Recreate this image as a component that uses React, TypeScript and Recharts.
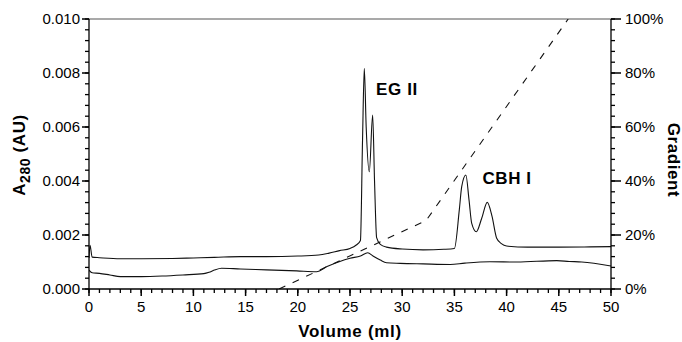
import React from 'react';
import {
  LineChart,
  Line,
  XAxis,
  YAxis,
  ReferenceLine,
  ReferenceDot,
  Label,
} from 'recharts';

// upper trace
const volumeA = [
  0, 0.1, 0.3, 1, 3, 5, 8, 10, 12, 14.5, 17, 20, 22, 23, 24, 25, 25.6, 26.0,
  26.2, 26.37, 26.55, 26.85, 27.17, 27.35, 27.55, 27.9, 28.5, 30, 32, 34, 35.0,
  35.47, 35.7, 36.1, 36.4, 36.66, 37.1, 37.6, 38.15, 38.6, 39.05, 39.5, 40, 42,
  45, 48, 50,
];
const a280A = [
  0.00115, 0.00162, 0.00118, 0.00116, 0.00112, 0.00112, 0.00113, 0.00115,
  0.00117, 0.0012, 0.0012, 0.00122, 0.00126, 0.00133, 0.00142, 0.0015, 0.00163,
  0.0018, 0.0055, 0.00817, 0.006, 0.00434, 0.00644, 0.004, 0.0019, 0.00165,
  0.00155, 0.00148, 0.00145, 0.00147, 0.0015, 0.00293, 0.00379, 0.00422,
  0.0033, 0.00243, 0.00212, 0.0026, 0.00321, 0.0027, 0.00188, 0.00168, 0.00159,
  0.00155, 0.00155, 0.00156, 0.00157,
];

// lower trace
const volumeB = [
  0, 0.3, 1, 2, 3, 5, 7, 9, 11, 11.5, 12, 12.7, 14.5, 17, 19.9, 21.8, 22.8,
  25.0, 26.0, 26.7, 27.2, 27.9, 28.5, 29.8, 32, 34.6, 36, 38.4, 41, 44.8, 46,
  47.2, 50,
];
const a280B = [
  0.0007, 0.0006, 0.00058, 0.00052, 0.00046, 0.00046, 0.00048, 0.00052,
  0.00057, 0.00062, 0.0007, 0.00077, 0.00074, 0.00071, 0.00067, 0.00064,
  0.00083, 0.00114, 0.00122, 0.00134, 0.00122, 0.00107, 0.00097, 0.00095,
  0.00093, 0.00091, 0.00096, 0.00101, 0.001, 0.00105, 0.00102, 0.001, 0.00085,
];

// gradient (%)
const gradVolume = [18.2, 32.3, 45.9];
const gradPct = [0, 25.4, 100];

const volumeLabels = [0, 5, 10, 15, 20, 25, 30, 35, 40, 45, 50];
const a280Labels = ['0.000', '0.002', '0.004', '0.006', '0.008', '0.010'];
const gradientLabels = ['0%', '20%', '40%', '60%', '80%', '100%'];

const peaks = [
  { name: 'EG II', v: 29.5, a: 0.00741 },
  { name: 'CBH I', v: 40.04, a: 0.00411 },
];

const dataA = volumeA.map((v, i) => ({ v, a: a280A[i] }));
const dataB = volumeB.map((v, i) => ({ v, a: a280B[i] }));
const dataG = gradVolume.map((v, i) => ({ v, g: gradPct[i] }));

const FONT = 'Liberation Sans, Arial, Helvetica, sans-serif';

const volumeTicks = Array.from({ length: 51 }, (_, i) => i);
const a280Ticks = Array.from({ length: 26 }, (_, i) => Number((i * 0.0004).toFixed(4)));
const gradTicks = Array.from({ length: 26 }, (_, i) => i * 4);

const labelIndex = (value: number, step: number) => {
  const r = value / step;
  return Math.abs(r - Math.round(r)) < 1e-6 ? Math.round(r) : -1;
};

const BottomTick = (props: any) => {
  const x = Number(props.x);
  const idx = labelIndex(Number(props.payload.value), 5);
  if (idx < 0) return <g />;
  return (
    <g>
      <path d={`M${x},289V296`} stroke="#000" strokeWidth={1.5} fill="none" />
      <text x={x} y={301} dy="0.71em" textAnchor="middle" fontSize={15} fontFamily={FONT} fill="#000">
        {volumeLabels[idx]}
      </text>
    </g>
  );
};

const LeftTick = (props: any) => {
  const y = Number(props.y);
  const idx = labelIndex(Number(props.payload.value), 0.002);
  if (idx < 0) return <g />;
  return (
    <g>
      <path d={`M82,${y}H89`} stroke="#000" strokeWidth={1.5} fill="none" />
      <text x={80} y={y} dy="0.36em" textAnchor="end" fontSize={15} fontFamily={FONT} fill="#000">
        {a280Labels[idx]}
      </text>
    </g>
  );
};

const RightTick = (props: any) => {
  const y = Number(props.y);
  const idx = labelIndex(Number(props.payload.value), 20);
  if (idx < 0) return <g />;
  return (
    <g>
      <path d={`M611,${y}H621`} stroke="#000" strokeWidth={1.5} fill="none" />
      <text x={625} y={y} dy="0.36em" textAnchor="start" fontSize={15} fontFamily={FONT} fill="#000">
        {gradientLabels[idx]}
      </text>
    </g>
  );
};

const PeakLabel = (props: any) => {
  const { viewBox, value } = props;
  const cx = viewBox.x + viewBox.width / 2;
  const cy = viewBox.y + viewBox.height / 2;
  return (
    <text x={cx} y={cy} dy="0.36em" textAnchor="middle" fontSize={17} fontWeight="bold"
      fontFamily={FONT} letterSpacing={0.6} fill="#000">
      {value}
    </text>
  );
};

const App = () => {
  return (
    <div style={{ position: 'absolute', left: 0, top: 0 }}>
      <LineChart width={682} height={342} margin={{ top: 19, right: 0, bottom: 0, left: 0 }}>
        <XAxis
          dataKey="v"
          type="number"
          domain={[0, 50]}
          ticks={volumeTicks}
          interval={0}
          allowDataOverflow
          height={53}
          tickSize={4}
          tickMargin={8}
          tickLine={{ stroke: '#000', strokeWidth: 1.3 }}
          tick={<BottomTick />}
          axisLine={{ stroke: '#000', strokeWidth: 1.3 }}
        >
          <Label
            content={() => (
              <text x={350} y={337} textAnchor="middle" fontSize={17} fontWeight="bold"
                fontFamily={FONT} letterSpacing={0.7} fill="#000">
                Volume (ml)
              </text>
            )}
          />
        </XAxis>
        <YAxis
          yAxisId="a"
          type="number"
          domain={[0, 0.01]}
          ticks={a280Ticks}
          interval={0}
          allowDataOverflow
          width={89}
          tickSize={4}
          tickMargin={5}
          tickLine={{ stroke: '#000', strokeWidth: 1.3 }}
          tick={<LeftTick />}
          axisLine={{ stroke: '#000', strokeWidth: 1.3 }}
        >
          <Label
            content={() => (
              <text transform="translate(25,155) rotate(-90)" textAnchor="middle" fontWeight="bold"
                fontFamily={FONT} fill="#000" fontSize={17} letterSpacing={0.6}>
                A
                <tspan fontSize={14} dy={5}>280</tspan>
                <tspan dy={-5}> (AU)</tspan>
              </text>
            )}
          />
        </YAxis>
        <YAxis
          yAxisId="g"
          orientation="right"
          type="number"
          domain={[0, 100]}
          ticks={gradTicks}
          interval={0}
          allowDataOverflow
          width={71}
          tickSize={4}
          tickMargin={10}
          tickLine={{ stroke: '#000', strokeWidth: 1.3 }}
          tick={<RightTick />}
          axisLine={{ stroke: '#000', strokeWidth: 1.3 }}
        >
          <Label
            content={() => (
              <text transform="translate(668,160) rotate(90)" textAnchor="middle" fontWeight="bold"
                fontFamily={FONT} fill="#000" fontSize={17} letterSpacing={0.6}>
                Gradient
              </text>
            )}
          />
        </YAxis>
        <ReferenceLine yAxisId="a" y={0.01} stroke="#555" strokeWidth={1.2} />
        <Line
          yAxisId="a"
          data={dataA}
          dataKey="a"
          type="monotone"
          stroke="#111"
          strokeWidth={1.1}
          dot={false}
          isAnimationActive={false}
        />
        <Line
          yAxisId="a"
          data={dataB}
          dataKey="a"
          type="monotone"
          stroke="#111"
          strokeWidth={1.1}
          dot={false}
          isAnimationActive={false}
        />
        <Line
          yAxisId="g"
          data={dataG}
          dataKey="g"
          type="linear"
          stroke="#111"
          strokeWidth={1.1}
          strokeDasharray="7 8"
          dot={false}
          isAnimationActive={false}
        />
        {peaks.map((p) => (
          <ReferenceDot
            key={p.name}
            yAxisId="a"
            x={p.v}
            y={p.a}
            r={0}
            fill="none"
            stroke="none"
            label={<PeakLabel value={p.name} />}
          />
        ))}
      </LineChart>
    </div>
  );
};

export default App;
